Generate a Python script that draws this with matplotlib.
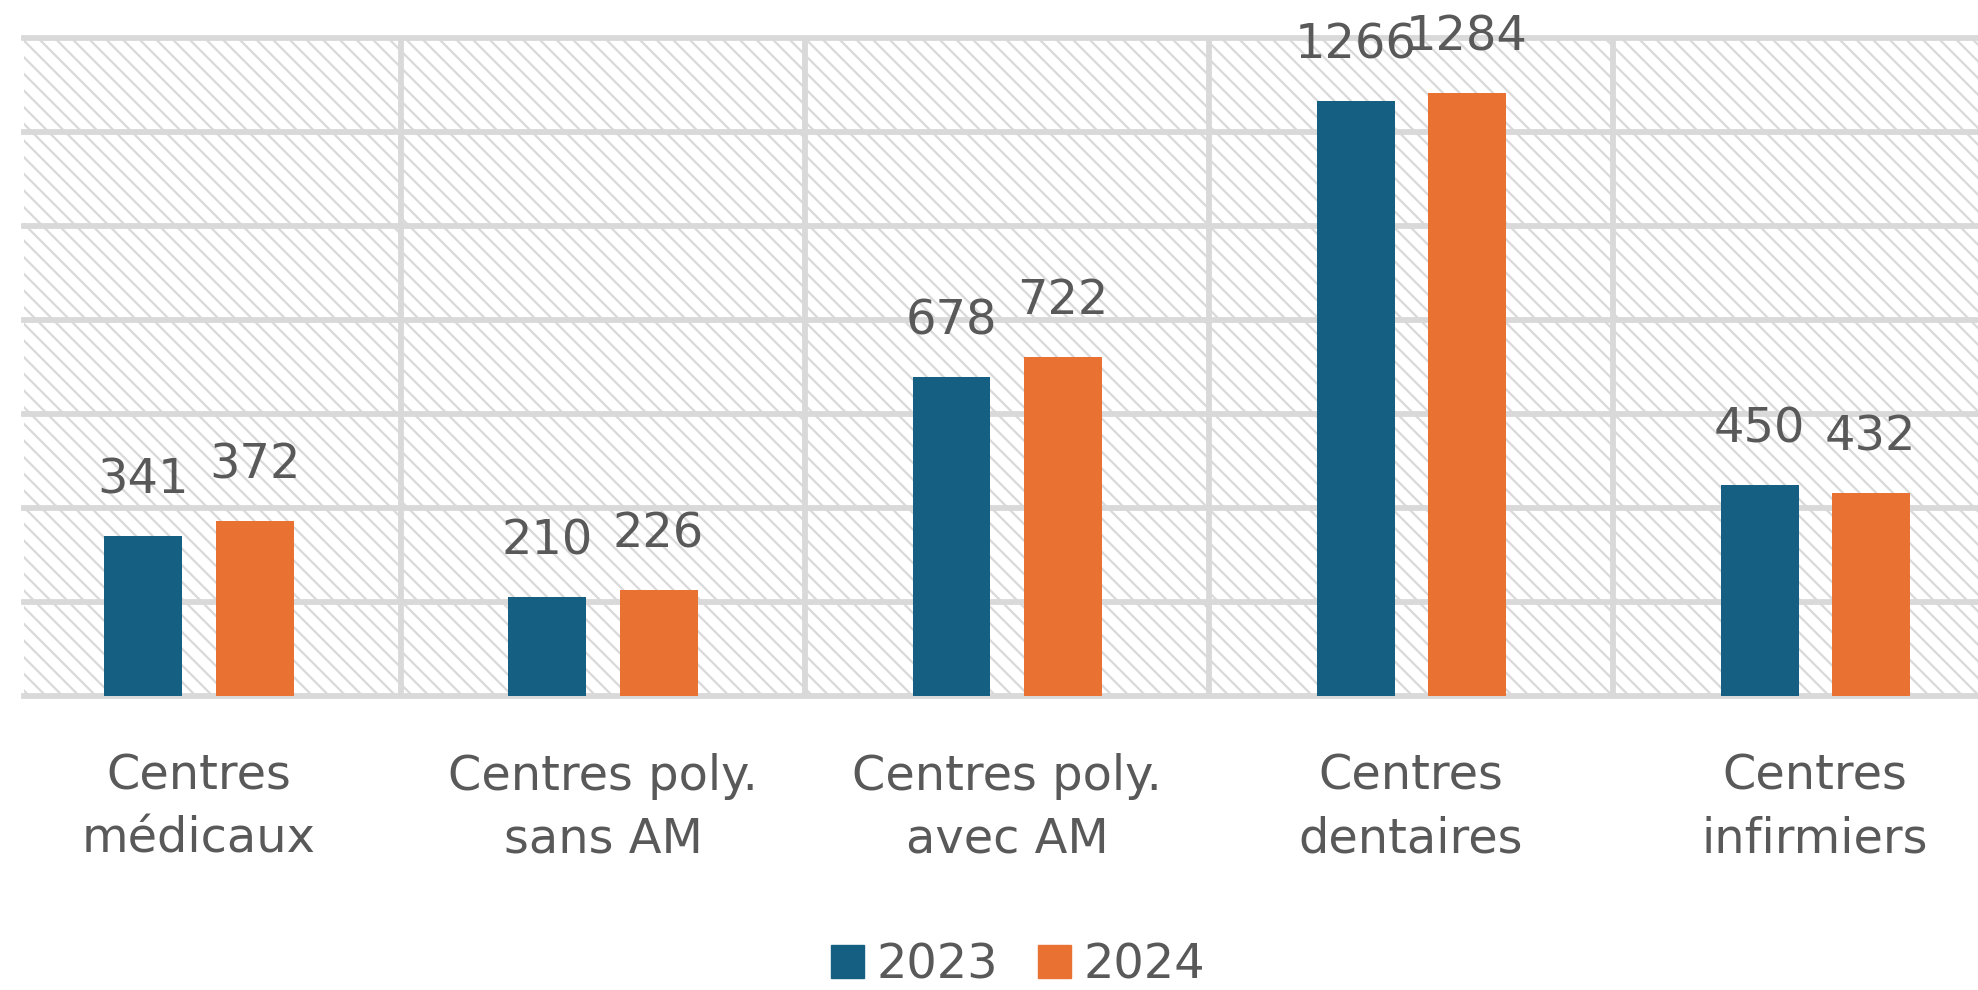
import numpy as np
import matplotlib.pyplot as plt
from matplotlib.patches import Patch

categories = ["Centres\nmédicaux", "Centres poly.\nsans AM", "Centres poly.\navec AM",
              "Centres\ndentaires", "Centres\ninfirmiers"]
years = ["2023", "2024"]
v2023 = [341, 210, 678, 1266, 450]
v2024 = [372, 226, 722, 1284, 432]

blue = '#156082'
orange = '#E97132'
grid_c = '#d9d9d9'
txt_c = '#595959'
fs = 34.5

plt.rcParams['font.family'] = 'DejaVu Sans'
plt.rcParams['hatch.color'] = grid_c
plt.rcParams['hatch.linewidth'] = 1.6

W, H = 1978, 990
fig = plt.figure(figsize=(W / 100, H / 100), dpi=100)
# plot area is cut by the right edge of the picture, as in the original
ax = fig.add_axes([24 / W, (H - 696) / H, 1 - 24 / W, (696 - 38) / H])

x = np.arange(len(categories))
bw = 0.193
off = 0.1375
ax.bar(x - off, v2023, bw, color=blue, zorder=3)
ax.bar(x + off, v2024, bw, color=orange, zorder=3)

# hatched background
ax.patch.set_facecolor('white')
ax.patch.set_edgecolor(grid_c)
ax.patch.set_hatch('\\\\')

ax.set_yticks(np.arange(0, 1401, 200))
ax.set_xticks(np.arange(-0.5, 5, 1), minor=True)
ax.set_xticks(x)
ax.set_xticklabels([])
ax.set_xlim(-0.433, 4.403)
ax.set_ylim(0, 1400)
ax.tick_params(axis='both', which='both', length=0, labelleft=False)
ax.grid(axis='y', which='major', color=grid_c, lw=4.2, zorder=1)
ax.grid(axis='x', which='minor', color=grid_c, lw=4.2, zorder=1)
for gl in ax.get_ygridlines():
    gl.set_clip_on(False)
ax.set_axisbelow(True)
for s in ax.spines.values():
    s.set_visible(False)

# value labels
for xs, vals in [(x - off, v2023), (x + off, v2024)]:
    for xi, v in zip(xs, vals):
        ax.annotate(str(v), xy=(xi, v), xytext=(0, 30.5), textcoords='offset points',
                    ha='center', va='baseline', fontsize=fs, color=txt_c)

# category labels, two lines each
for i, lab in enumerate(categories):
    for k, line in enumerate(lab.split('\n')):
        ax.annotate(line, xy=(i, 0), xycoords=('data', 'axes fraction'),
                    xytext=(0, -67.5 - 45.5 * k), textcoords='offset points',
                    ha='center', va='baseline', fontsize=fs, color=txt_c,
                    annotation_clip=False)

handles = [Patch(color=blue), Patch(color=orange)]
fig.legend(handles, years, loc='center', bbox_to_anchor=(1018 / W, 1 - 965 / H),
           ncol=2, frameon=False, fontsize=fs, labelcolor=txt_c,
           handlelength=0.69, handleheight=0.69, handletextpad=0.25,
           columnspacing=0.85, borderpad=0)

fig.savefig('out.png', dpi=100)
